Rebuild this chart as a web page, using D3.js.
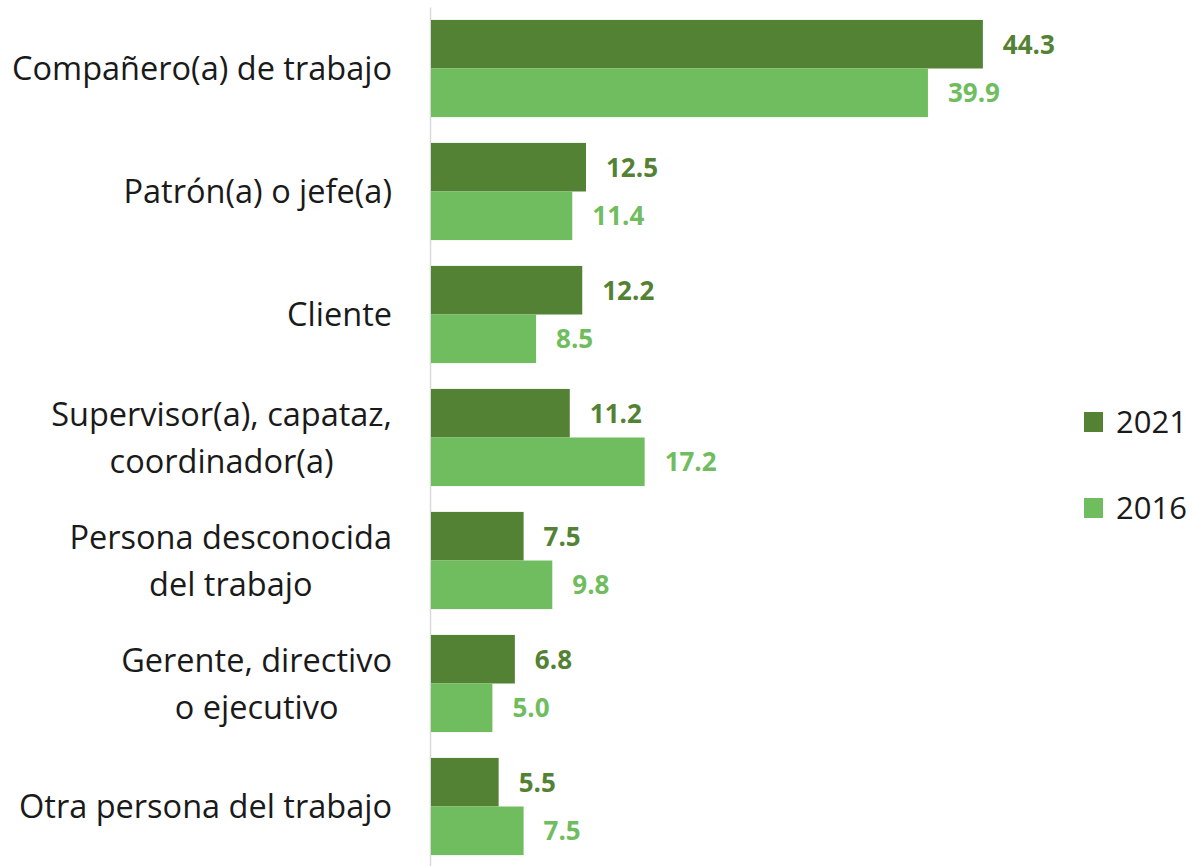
<!DOCTYPE html>
<html>
<head>
<meta charset="utf-8">
<script src="https://cdn.jsdelivr.net/npm/d3@7"></script>
<style>
  body { margin: 0; background: #fff; }
  svg { display: block; }
</style>
</head>
<body>
<div id="chart"></div>
<script>
var categories = [
  ['Compañero(a) de trabajo'],
  ['Patrón(a) o jefe(a)'],
  ['Cliente'],
  ['Supervisor(a), capataz,', 'coordinador(a)'],
  ['Persona desconocida', 'del trabajo'],
  ['Gerente, directivo', 'o ejecutivo'],
  ['Otra persona del trabajo']
];
var seriesNames = ['2021', '2016'];
var values2021 = [44.3, 12.5, 12.2, 11.2, 7.5, 6.8, 5.5];
var values2016 = [39.9, 11.4, 8.5, 17.2, 9.8, 5.0, 7.5];

var colors = {'2021': '#548235', '2016': '#70bd5f'};
var width = 1192, height = 866;
var fontFamily = '"Open Sans", "Noto Sans", sans-serif';

var data = categories.map(function(c, i) {
  return {key: c.join(' '), lines: c, '2021': values2021[i], '2016': values2016[i]};
});

var svg = d3.select('#chart').append('svg')
  .attr('width', width)
  .attr('height', height);

var x = d3.scaleLinear().domain([0, 50]).range([430, 430 + 50 * 12.48]);

var y = d3.scaleBand()
  .domain(data.map(function(d) { return d.key; }))
  .range([7, 868])
  .paddingInner(0.21)
  .paddingOuter(0.105);

var ySub = d3.scaleBand()
  .domain(seriesNames)
  .range([0, y.bandwidth()]);

// axis line
svg.append('g')
  .attr('transform', 'translate(' + x(0) + ',0)')
  .call(d3.axisLeft(y).tickSize(0).tickFormat(''))
  .call(function(g) {
    g.select('.domain').attr('stroke', '#d9d9d9').attr('stroke-width', 1.5);
  });

var groups = svg.selectAll('.group')
  .data(data)
  .enter().append('g')
  .attr('class', 'group')
  .attr('transform', function(d) { return 'translate(0,' + y(d.key) + ')'; });

seriesNames.forEach(function(s) {
  groups.append('rect')
    .attr('x', x(0) + 1)
    .attr('y', ySub(s))
    .attr('width', function(d) { return x(d[s]) - x(0) - 1; })
    .attr('height', ySub.bandwidth())
    .attr('fill', colors[s]);

  groups.append('text')
    .attr('x', function(d) { return x(d[s]) + 20; })
    .attr('y', ySub(s) + ySub.bandwidth() / 2)
    .attr('dy', '0.36em')
    .attr('font-family', fontFamily)
    .attr('font-weight', 'bold')
    .attr('font-size', 26)
    .attr('fill', colors[s])
    .text(function(d) { return d[s].toFixed(1); });
});

// category labels (wrapped lines centred within a right-aligned block)
var labelRight = 392;
var lineHeight = 47;
groups.each(function(d) {
  var g = d3.select(this);
  var t = g.append('text')
    .attr('font-family', fontFamily)
    .attr('font-size', 32.5)
    .attr('fill', '#1a1a1a');
  var n = d.lines.length;
  var spans = d.lines.map(function(line, i) {
    return t.append('tspan')
      .attr('y', y.bandwidth() / 2 + (i - (n - 1) / 2) * lineHeight)
      .attr('dy', '0.36em')
      .text(line);
  });
  var maxW = d3.max(spans, function(sp) { return sp.node().getComputedTextLength(); });
  var cx = labelRight - maxW / 2;
  spans.forEach(function(sp) {
    sp.attr('x', cx).attr('text-anchor', 'middle');
  });
});

// legend
var legend = svg.append('g').attr('transform', 'translate(1084,0)');
var legendY = {'2021': 422, '2016': 508};
seriesNames.forEach(function(s) {
  legend.append('rect')
    .attr('x', 0)
    .attr('y', legendY[s] - 10)
    .attr('width', 19)
    .attr('height', 20)
    .attr('fill', colors[s]);
  legend.append('text')
    .attr('x', 32)
    .attr('y', legendY[s])
    .attr('dy', '0.36em')
    .attr('font-family', fontFamily)
    .attr('font-size', 31)
    .attr('fill', '#1a1a1a')
    .text(s);
});
</script>
</body>
</html>
